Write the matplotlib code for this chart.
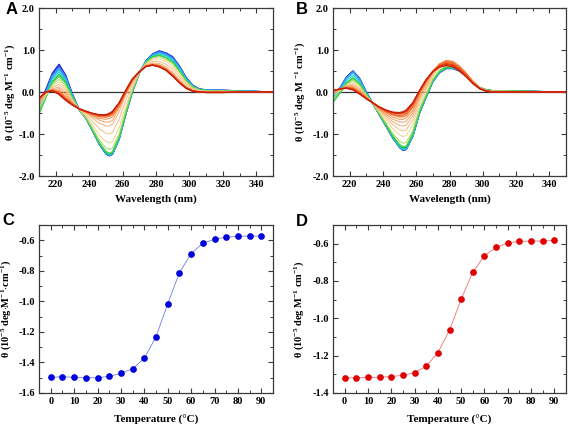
import numpy as np
import matplotlib
matplotlib.use('Agg')
import matplotlib.pyplot as plt
from matplotlib.ticker import MultipleLocator

plt.rcParams['font.family'] = 'Liberation Serif'
plt.rcParams['font.weight'] = 'bold'
plt.rcParams['mathtext.fontset'] = 'custom'
plt.rcParams['mathtext.rm'] = 'Liberation Serif:bold'
plt.rcParams['mathtext.it'] = 'Liberation Serif:bold:italic'
plt.rcParams['mathtext.bf'] = 'Liberation Serif:bold'
plt.rcParams['axes.unicode_minus'] = False

# wavelengths (nm) where the CD spectra were read
wl = [210, 214, 218, 222, 226, 230, 234, 238, 242, 246, 250, 252, 254, 258, 262,
      266, 270, 274, 278, 282, 286, 290, 294, 298, 302, 306, 310, 320, 335, 350]

temps = [0, 5, 10, 15, 20, 25, 30, 35, 40, 45, 50, 55, 60, 65, 70, 75, 80, 85, 90]

# panel A spectra, one row per temperature (10^-5 deg M^-1 cm^-1)
cd_a = [
    [-0.28, 0.05, 0.45, 0.66, 0.40, -0.05, -0.42, -0.62, -0.92, -1.24, -1.47, -1.52, -1.48, -1.12, -0.52, 0.02, 0.45, 0.74, 0.91, 0.98, 0.93, 0.84, 0.62, 0.35, 0.16, 0.07, 0.05, 0.04, 0.02, 0.00],
    [-0.30, 0.03, 0.43, 0.63, 0.38, -0.06, -0.42, -0.62, -0.92, -1.24, -1.47, -1.52, -1.48, -1.12, -0.52, 0.02, 0.45, 0.74, 0.90, 0.97, 0.92, 0.83, 0.61, 0.34, 0.16, 0.07, 0.05, 0.04, 0.02, 0.00],
    [-0.32, 0.01, 0.41, 0.60, 0.36, -0.07, -0.42, -0.62, -0.92, -1.23, -1.46, -1.51, -1.47, -1.11, -0.51, 0.02, 0.45, 0.73, 0.90, 0.96, 0.91, 0.82, 0.60, 0.34, 0.15, 0.07, 0.05, 0.04, 0.02, 0.00],
    [-0.35, -0.02, 0.38, 0.57, 0.34, -0.08, -0.42, -0.62, -0.92, -1.23, -1.46, -1.51, -1.47, -1.11, -0.51, 0.02, 0.45, 0.73, 0.89, 0.95, 0.90, 0.80, 0.59, 0.33, 0.15, 0.06, 0.05, 0.04, 0.02, 0.00],
    [-0.39, -0.05, 0.35, 0.53, 0.31, -0.09, -0.42, -0.62, -0.91, -1.23, -1.45, -1.50, -1.46, -1.10, -0.51, 0.03, 0.45, 0.72, 0.88, 0.93, 0.88, 0.78, 0.57, 0.32, 0.14, 0.06, 0.04, 0.03, 0.02, 0.00],
    [-0.44, -0.09, 0.31, 0.48, 0.28, -0.10, -0.42, -0.62, -0.91, -1.23, -1.45, -1.50, -1.46, -1.10, -0.51, 0.03, 0.46, 0.72, 0.86, 0.91, 0.86, 0.76, 0.55, 0.30, 0.13, 0.06, 0.04, 0.03, 0.02, 0.00],
    [-0.52, -0.15, 0.25, 0.42, 0.24, -0.12, -0.42, -0.61, -0.90, -1.21, -1.43, -1.48, -1.44, -1.08, -0.50, 0.03, 0.46, 0.70, 0.84, 0.88, 0.82, 0.72, 0.51, 0.28, 0.12, 0.05, 0.03, 0.03, 0.01, 0.00],
    [-0.50, -0.14, 0.22, 0.37, 0.20, -0.14, -0.42, -0.61, -0.90, -1.20, -1.41, -1.46, -1.42, -1.07, -0.48, 0.04, 0.46, 0.70, 0.83, 0.87, 0.81, 0.70, 0.50, 0.27, 0.12, 0.05, 0.03, 0.03, 0.01, 0.00],
    [-0.44, -0.11, 0.18, 0.30, 0.15, -0.16, -0.42, -0.60, -0.86, -1.14, -1.33, -1.37, -1.33, -0.99, -0.43, 0.07, 0.46, 0.69, 0.81, 0.84, 0.77, 0.67, 0.47, 0.25, 0.11, 0.04, 0.03, 0.02, 0.01, 0.00],
    [-0.37, -0.08, 0.14, 0.24, 0.10, -0.19, -0.41, -0.57, -0.79, -1.03, -1.18, -1.21, -1.18, -0.84, -0.33, 0.11, 0.47, 0.68, 0.78, 0.79, 0.73, 0.61, 0.42, 0.22, 0.09, 0.04, 0.02, 0.02, 0.01, 0.00],
    [-0.30, -0.05, 0.11, 0.18, 0.05, -0.21, -0.41, -0.54, -0.70, -0.87, -0.98, -1.00, -0.96, -0.64, -0.19, 0.18, 0.47, 0.66, 0.73, 0.73, 0.66, 0.54, 0.36, 0.18, 0.07, 0.02, 0.01, 0.01, 0.01, 0.00],
    [-0.25, -0.03, 0.08, 0.12, 0.00, -0.24, -0.41, -0.50, -0.62, -0.74, -0.81, -0.81, -0.77, -0.47, -0.07, 0.24, 0.47, 0.64, 0.69, 0.68, 0.60, 0.47, 0.30, 0.14, 0.05, 0.01, 0.00, 0.00, 0.00, 0.00],
    [-0.21, -0.02, 0.06, 0.08, -0.05, -0.26, -0.40, -0.49, -0.58, -0.67, -0.72, -0.71, -0.68, -0.38, -0.01, 0.27, 0.48, 0.63, 0.67, 0.65, 0.57, 0.44, 0.27, 0.12, 0.04, 0.01, 0.00, 0.00, 0.00, 0.00],
    [-0.19, -0.01, 0.05, 0.04, -0.10, -0.27, -0.40, -0.48, -0.56, -0.63, -0.65, -0.63, -0.59, -0.36, -0.03, 0.28, 0.48, 0.62, 0.66, 0.63, 0.55, 0.41, 0.25, 0.11, 0.03, 0.00, -0.01, -0.01, 0.00, 0.00],
    [-0.17, 0.00, 0.04, 0.01, -0.14, -0.28, -0.40, -0.47, -0.53, -0.59, -0.60, -0.58, -0.54, -0.31, 0.00, 0.29, 0.48, 0.62, 0.65, 0.62, 0.54, 0.40, 0.24, 0.10, 0.03, 0.00, -0.01, -0.01, 0.00, 0.00],
    [-0.16, 0.00, 0.04, -0.01, -0.16, -0.29, -0.40, -0.46, -0.52, -0.57, -0.57, -0.55, -0.51, -0.29, 0.02, 0.30, 0.48, 0.61, 0.65, 0.61, 0.53, 0.39, 0.23, 0.10, 0.02, 0.00, -0.01, -0.01, 0.00, 0.00],
    [-0.16, 0.00, 0.03, -0.03, -0.18, -0.30, -0.40, -0.46, -0.51, -0.56, -0.56, -0.53, -0.49, -0.27, 0.03, 0.31, 0.48, 0.61, 0.64, 0.60, 0.52, 0.38, 0.22, 0.09, 0.02, 0.00, -0.01, -0.01, 0.00, 0.00],
    [-0.15, 0.00, 0.03, -0.05, -0.19, -0.31, -0.40, -0.46, -0.51, -0.55, -0.55, -0.52, -0.47, -0.26, 0.04, 0.31, 0.48, 0.61, 0.64, 0.60, 0.52, 0.38, 0.22, 0.09, 0.02, 0.00, -0.01, -0.01, 0.00, 0.00],
    [-0.15, 0.00, 0.03, -0.06, -0.20, -0.31, -0.40, -0.46, -0.51, -0.54, -0.54, -0.51, -0.46, -0.25, 0.05, 0.32, 0.48, 0.61, 0.64, 0.60, 0.52, 0.38, 0.22, 0.09, 0.02, 0.00, -0.01, -0.01, 0.00, 0.00],
]

# panel B spectra, one row per temperature
cd_b = [
    [-0.07, 0.08, 0.35, 0.50, 0.32, 0.00, -0.28, -0.55, -0.82, -1.10, -1.32, -1.38, -1.37, -1.05, -0.50, -0.12, 0.25, 0.46, 0.56, 0.56, 0.50, 0.40, 0.24, 0.11, 0.05, 0.03, 0.03, 0.02, 0.01, 0.00],
    [-0.07, 0.08, 0.35, 0.50, 0.32, 0.00, -0.28, -0.55, -0.82, -1.10, -1.32, -1.39, -1.37, -1.05, -0.50, -0.12, 0.25, 0.46, 0.56, 0.56, 0.50, 0.40, 0.24, 0.11, 0.05, 0.03, 0.03, 0.02, 0.01, 0.00],
    [-0.08, 0.07, 0.34, 0.49, 0.31, -0.01, -0.28, -0.55, -0.82, -1.10, -1.32, -1.38, -1.37, -1.05, -0.50, -0.12, 0.25, 0.46, 0.56, 0.56, 0.50, 0.40, 0.24, 0.11, 0.05, 0.03, 0.03, 0.02, 0.01, 0.00],
    [-0.09, 0.06, 0.33, 0.48, 0.30, -0.01, -0.28, -0.55, -0.82, -1.09, -1.31, -1.37, -1.36, -1.04, -0.49, -0.12, 0.25, 0.46, 0.57, 0.57, 0.50, 0.40, 0.24, 0.11, 0.05, 0.03, 0.03, 0.02, 0.01, 0.00],
    [-0.11, 0.05, 0.31, 0.46, 0.28, -0.02, -0.28, -0.55, -0.81, -1.09, -1.31, -1.37, -1.36, -1.04, -0.49, -0.11, 0.26, 0.47, 0.57, 0.57, 0.51, 0.41, 0.24, 0.11, 0.05, 0.03, 0.03, 0.02, 0.01, 0.00],
    [-0.16, 0.02, 0.26, 0.40, 0.24, -0.03, -0.28, -0.54, -0.81, -1.08, -1.30, -1.35, -1.34, -1.03, -0.48, -0.11, 0.26, 0.48, 0.58, 0.58, 0.51, 0.41, 0.24, 0.11, 0.05, 0.03, 0.03, 0.02, 0.01, 0.00],
    [-0.23, -0.03, 0.21, 0.34, 0.20, -0.05, -0.28, -0.54, -0.80, -1.07, -1.27, -1.33, -1.32, -1.01, -0.47, -0.10, 0.27, 0.49, 0.58, 0.58, 0.52, 0.41, 0.25, 0.11, 0.05, 0.03, 0.03, 0.02, 0.01, 0.00],
    [-0.25, -0.04, 0.19, 0.32, 0.19, -0.06, -0.28, -0.53, -0.78, -1.04, -1.25, -1.30, -1.29, -0.98, -0.45, -0.08, 0.28, 0.50, 0.60, 0.59, 0.53, 0.42, 0.25, 0.11, 0.05, 0.03, 0.03, 0.02, 0.01, 0.00],
    [-0.15, 0.01, 0.18, 0.28, 0.16, -0.07, -0.28, -0.52, -0.75, -0.99, -1.17, -1.22, -1.20, -0.91, -0.40, -0.04, 0.31, 0.52, 0.62, 0.62, 0.54, 0.42, 0.25, 0.11, 0.05, 0.02, 0.02, 0.02, 0.01, 0.00],
    [-0.08, 0.03, 0.16, 0.23, 0.12, -0.09, -0.27, -0.48, -0.68, -0.88, -1.02, -1.06, -1.04, -0.77, -0.31, 0.03, 0.37, 0.58, 0.68, 0.66, 0.58, 0.44, 0.26, 0.11, 0.04, 0.02, 0.02, 0.01, 0.01, 0.00],
    [-0.03, 0.05, 0.15, 0.19, 0.08, -0.10, -0.27, -0.45, -0.62, -0.78, -0.90, -0.92, -0.90, -0.66, -0.22, 0.09, 0.41, 0.62, 0.72, 0.70, 0.60, 0.45, 0.26, 0.11, 0.04, 0.02, 0.02, 0.01, 0.01, 0.00],
    [0.00, 0.06, 0.14, 0.16, 0.05, -0.11, -0.27, -0.43, -0.57, -0.71, -0.80, -0.81, -0.79, -0.56, -0.16, 0.14, 0.45, 0.65, 0.74, 0.73, 0.62, 0.46, 0.26, 0.11, 0.04, 0.01, 0.01, 0.01, 0.00, 0.00],
    [0.01, 0.06, 0.13, 0.13, 0.03, -0.12, -0.27, -0.41, -0.54, -0.65, -0.71, -0.72, -0.70, -0.49, -0.11, 0.19, 0.47, 0.67, 0.75, 0.73, 0.62, 0.45, 0.26, 0.11, 0.03, 0.01, 0.01, 0.01, 0.00, 0.00],
    [0.02, 0.07, 0.12, 0.11, 0.01, -0.13, -0.26, -0.40, -0.50, -0.60, -0.65, -0.65, -0.62, -0.43, -0.06, 0.22, 0.49, 0.67, 0.75, 0.72, 0.61, 0.45, 0.25, 0.10, 0.03, 0.01, 0.01, 0.00, 0.00, 0.00],
    [0.02, 0.07, 0.11, 0.09, -0.01, -0.14, -0.26, -0.38, -0.48, -0.55, -0.59, -0.59, -0.56, -0.36, -0.02, 0.25, 0.50, 0.66, 0.73, 0.70, 0.59, 0.43, 0.24, 0.10, 0.03, 0.01, 0.00, 0.00, 0.00, 0.00],
    [0.03, 0.07, 0.10, 0.08, -0.02, -0.15, -0.26, -0.38, -0.46, -0.53, -0.56, -0.55, -0.51, -0.32, 0.00, 0.27, 0.49, 0.64, 0.70, 0.68, 0.57, 0.41, 0.23, 0.09, 0.03, 0.00, 0.00, 0.00, 0.00, 0.00],
    [0.03, 0.07, 0.10, 0.07, -0.03, -0.15, -0.26, -0.37, -0.45, -0.50, -0.52, -0.51, -0.47, -0.29, 0.02, 0.28, 0.49, 0.62, 0.68, 0.65, 0.54, 0.39, 0.22, 0.09, 0.02, 0.00, 0.00, 0.00, 0.00, 0.00],
    [0.03, 0.07, 0.09, 0.06, -0.04, -0.16, -0.26, -0.36, -0.44, -0.49, -0.51, -0.49, -0.45, -0.27, 0.03, 0.29, 0.49, 0.61, 0.66, 0.63, 0.53, 0.38, 0.21, 0.08, 0.02, 0.00, 0.00, 0.00, 0.00, 0.00],
    [0.03, 0.07, 0.09, 0.05, -0.05, -0.16, -0.26, -0.36, -0.43, -0.48, -0.49, -0.47, -0.43, -0.25, 0.04, 0.30, 0.48, 0.59, 0.63, 0.60, 0.50, 0.36, 0.20, 0.08, 0.02, 0.00, 0.00, 0.00, 0.00, 0.00],
]

# melting curves (theta vs temperature)
theta_c = [-1.498, -1.493, -1.498, -1.500, -1.500, -1.491, -1.471, -1.441, -1.373, -1.232,
           -1.016, -0.813, -0.687, -0.620, -0.593, -0.580, -0.574, -0.572, -0.572]
theta_d = [-1.320, -1.318, -1.316, -1.316, -1.312, -1.305, -1.291, -1.257, -1.184, -1.064,
           -0.897, -0.754, -0.664, -0.620, -0.596, -0.588, -0.586, -0.586, -0.582]

# blue (cold) -> red (hot)
line_colors = ['#0a14b4', '#1e3cdc', '#5a64f0', '#3c8cf0', '#28b4f0', '#1ed2dc', '#14be3c',
               '#50d250', '#a5d75a', '#f0d28c', '#f5be82', '#f5af78', '#f5a064', '#f58c46',
               '#f57832', '#f06428', '#e64b1e', '#dc3214', '#c81e0a']

W, H = 568, 424
fig = plt.figure(figsize=(W / 100, H / 100), dpi=100)


def box(x0, y0, x1, y1):
    # pixel box -> figure fraction
    return [x0 / W, 1 - y1 / H, (x1 - x0) / W, (y1 - y0) / H]


def style_axes(ax):
    for s in ax.spines.values():
        s.set_color('#3a3a3a')
        s.set_linewidth(0.9)
    ax.tick_params(which='both', direction='in', top=True, right=True,
                   labelsize=7.5, color='#3a3a3a', pad=3)
    ax.tick_params(which='major', length=3.5, width=0.8)
    ax.tick_params(which='minor', length=2, width=0.7)
    for lab in ax.get_xticklabels() + ax.get_yticklabels():
        lab.set_fontweight('bold')


def spectra(ax, rows, ylab, lab_x):
    for i, row in enumerate(rows):
        lw = 0.9 if temps[i] <= 35 else (0.95 if temps[i] >= 70 else 0.7)
        ax.plot(wl, row, color=line_colors[i], lw=lw)
    ax.axhline(0, color='#333333', lw=0.9, zorder=0)
    ax.set_xlim(210, 350)
    ax.set_ylim(-2.0, 2.0)
    ax.xaxis.set_major_locator(MultipleLocator(20))
    ax.xaxis.set_minor_locator(MultipleLocator(10))
    ax.yaxis.set_major_locator(MultipleLocator(1.0))
    ax.yaxis.set_minor_locator(MultipleLocator(0.5))
    ax.set_xticks([220, 240, 260, 280, 300, 320, 340])
    ax.set_yticklabels([f'{v:.1f}' for v in ax.get_yticks()])
    ax.set_xlabel('Wavelength (nm)', fontsize=8, fontweight='bold', labelpad=4)
    ax.set_ylabel(ylab, fontsize=7.5, fontweight='bold')
    ax.yaxis.set_label_coords(lab_x, 0.5)
    style_axes(ax)


def melting(ax, y, mcol, lcol, ylo, ylab, lab_x):
    ax.plot(temps, y, color=lcol, lw=0.6, zorder=1)
    ax.plot(temps, y, 'o', color=mcol, ms=3.8, zorder=2)
    ax.set_xlim(-5, 95)
    ax.set_ylim(ylo, -0.5)
    ax.xaxis.set_major_locator(MultipleLocator(10))
    ax.xaxis.set_minor_locator(MultipleLocator(5))
    ax.yaxis.set_major_locator(MultipleLocator(0.2))
    ax.yaxis.set_minor_locator(MultipleLocator(0.1))
    ax.set_yticks(np.arange(ylo, -0.55, 0.2))
    ax.set_yticklabels([f'{v:.1f}' for v in np.arange(ylo, -0.55, 0.2)])
    ax.set_xlabel('Temperature (\u00b0C)', fontsize=8, fontweight='bold', labelpad=6)
    ax.set_ylabel(ylab, fontsize=7.5, fontweight='bold')
    ax.yaxis.set_label_coords(lab_x, 0.5)
    style_axes(ax)


lab_a = r'θ (10$^{-5}$ deg M$^{-1}$ cm$^{-1}$)'
lab_b = r'θ (10$^{-5}$ deg M $^{-1}$ cm$^{-1}$)'
lab_c = r'θ (10$^{-5}$ deg$\cdot$M$^{-1}$$\cdot$cm$^{-1}$)'

ax_a = fig.add_axes(box(39, 8, 273, 176))
spectra(ax_a, cd_a, lab_a, -0.095)
ax_b = fig.add_axes(box(333, 8, 566, 176))
spectra(ax_b, cd_b, lab_b, -0.11)
ax_c = fig.add_axes(box(39, 225, 273, 393))
melting(ax_c, theta_c, '#0000dc', '#7080e0', -1.6, lab_c, -0.11)
ax_d = fig.add_axes(box(333, 225, 566, 393))
melting(ax_d, theta_d, '#e00000', '#f07070', -1.4, lab_a, -0.115)

# panel letters
for letter, (px, py) in zip('ABCD', [(6, 2), (296, 2), (2, 213), (296, 214)]):
    fig.text(px / W, 1 - py / H, letter, fontsize=12, fontweight='bold',
             family='Liberation Sans', va='top', ha='left')

fig.savefig('out.png', dpi=100)
